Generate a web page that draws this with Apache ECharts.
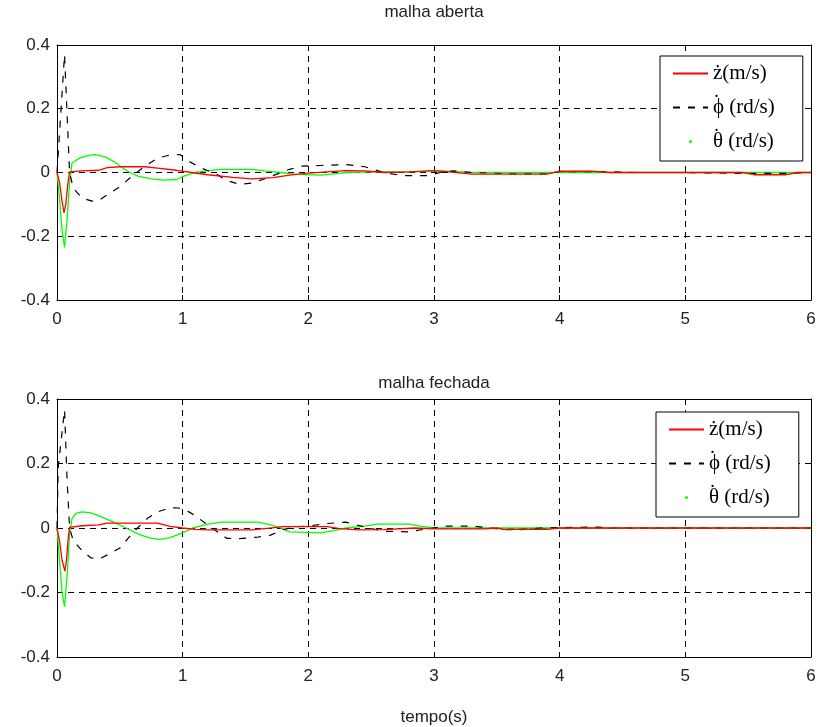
<!DOCTYPE html>
<html>
<head>
<meta charset="utf-8">
<script src="https://cdn.jsdelivr.net/npm/echarts@6/dist/echarts.min.js"></script>
<style>html,body{margin:0;padding:0;background:#fff}#c{width:820px;height:727px}</style>
</head>
<body>
<div id="c"></div>
<script>
// ---- data (time in s, value) ----
const titles = ['malha aberta', 'malha fechada'];
const seriesNames = ['\u017C(m/s)', '\u03D5\u0307 (rd/s)', '\u03B8\u0307 (rd/s)'];
const xTicks = [0, 1, 2, 3, 4, 5, 6];
const yTicks = [-0.4, -0.2, 0, 0.2, 0.4];

// open loop
const zOpen = [[0,0],[0.02,-0.03],[0.04,-0.09],[0.056,-0.127],[0.07,-0.1],[0.085,-0.04],[0.1,0.002],[0.2,0.005],[0.33,0.007],[0.4,0.015],[0.5,0.018],[0.7,0.018],[0.8,0.014],[0.95,0.007],[1.07,0],[1.2,-0.007],[1.4,-0.015],[1.55,-0.02],[1.72,-0.016],[1.85,-0.008],[2.0,-0.002],[2.15,0.002],[2.3,0.006],[2.45,0.005],[2.6,0],[2.8,0.002],[3.0,0.006],[3.1,0.003],[3.3,-0.005],[3.9,-0.005],[4.0,0.004],[4.25,0.004],[4.4,0],[5.45,0],[5.55,-0.007],[5.8,-0.007],[5.9,0],[6,0]];
const phiOpen = [[0,0],[0.06,0.37],[0.1,0.0],[0.13,-0.05],[0.2,-0.08],[0.28,-0.09],[0.33,-0.088],[0.4,-0.07],[0.5,-0.045],[0.6,-0.01],[0.7,0.02],[0.8,0.045],[0.9,0.055],[0.98,0.056],[1.05,0.035],[1.14,0.015],[1.27,-0.005],[1.35,-0.025],[1.45,-0.037],[1.55,-0.033],[1.65,-0.02],[1.75,-0.005],[1.85,0.01],[1.95,0.02],[2.1,0.022],[2.3,0.025],[2.45,0.018],[2.6,0],[2.75,-0.01],[2.95,-0.01],[3.05,0],[3.15,0.005],[3.3,0],[3.6,-0.004],[3.9,-0.004],[4.0,0.003],[4.3,0.003],[4.6,0],[5.0,0],[5.5,-0.003],[5.8,-0.003],[6,0]];
const thetaOpen = [[0,0],[0.02,-0.08],[0.04,-0.18],[0.06,-0.235],[0.08,-0.15],[0.1,-0.03],[0.12,0.03],[0.18,0.045],[0.25,0.054],[0.3,0.056],[0.38,0.05],[0.45,0.035],[0.52,0.015],[0.58,0],[0.65,-0.012],[0.75,-0.02],[0.85,-0.024],[0.95,-0.022],[1.02,-0.01],[1.1,0],[1.2,0.006],[1.3,0.01],[1.55,0.01],[1.65,0.005],[1.78,0],[1.9,-0.006],[2.1,-0.008],[2.2,-0.004],[2.3,0],[2.5,0.002],[2.9,0.003],[3.0,0.006],[3.1,0.004],[3.3,0],[6,0]];

// closed loop
const zClosed = [[0,0],[0.02,-0.04],[0.04,-0.1],[0.063,-0.134],[0.075,-0.1],[0.09,-0.03],[0.1,0.002],[0.2,0.007],[0.33,0.01],[0.4,0.015],[0.8,0.015],[0.9,0.005],[1.0,0],[1.1,-0.004],[1.2,-0.006],[1.55,-0.006],[1.65,-0.002],[1.8,0.004],[2.15,0.004],[2.25,-0.002],[2.4,-0.006],[2.6,-0.005],[2.85,0],[3.0,-0.003],[3.4,-0.003],[3.5,0],[3.55,-0.004],[3.9,-0.004],[4.0,0],[6,0]];
const phiClosed = [[0,0],[0.01,0.19],[0.06,0.366],[0.08,0.15],[0.1,0.0],[0.13,-0.04],[0.2,-0.07],[0.27,-0.093],[0.34,-0.095],[0.42,-0.08],[0.5,-0.062],[0.57,-0.03],[0.64,0.0],[0.72,0.03],[0.8,0.05],[0.9,0.063],[0.97,0.062],[1.05,0.05],[1.1,0.038],[1.19,0.012],[1.27,-0.01],[1.35,-0.032],[1.45,-0.033],[1.6,-0.028],[1.7,-0.022],[1.8,-0.005],[1.9,0.004],[2.0,0.006],[2.15,0.014],[2.3,0.018],[2.45,0.003],[2.6,-0.01],[2.8,-0.012],[2.95,-0.002],[3.1,0.006],[3.3,0.006],[3.45,0],[3.55,-0.005],[3.7,-0.005],[3.85,0],[4.3,0.003],[4.4,0],[6,0]];
const thetaClosed = [[0,0],[0.02,-0.1],[0.04,-0.2],[0.06,-0.244],[0.08,-0.15],[0.1,-0.02],[0.12,0.03],[0.15,0.045],[0.2,0.05],[0.27,0.047],[0.35,0.035],[0.45,0.018],[0.55,0],[0.65,-0.02],[0.75,-0.032],[0.82,-0.035],[0.9,-0.03],[1.0,-0.015],[1.08,0],[1.2,0.012],[1.3,0.018],[1.6,0.018],[1.7,0.01],[1.78,0],[1.85,-0.012],[2.1,-0.015],[2.2,-0.008],[2.3,0],[2.45,0.006],[2.55,0.012],[2.8,0.012],[2.9,0.005],[3.0,0],[6,0]];

const dataSets = [[zOpen, phiOpen, thetaOpen], [zClosed, phiClosed, thetaClosed]];
const colors = ['#ff0000', '#000000', '#00ff00'];

// ---- chart ----
const chart = echarts.init(document.getElementById('c'), null, {renderer: 'canvas'});
const FONT = '"Liberation Sans", Arial, sans-serif';
const SERIF = '"Liberation Serif", serif';
const grids = [
  {left: 57, top: 45, width: 754, height: 255, outerBoundsMode: 'none'},
  {left: 57, top: 399, width: 754, height: 258, outerBoundsMode: 'none'}
];
const axisLine = {show: true, onZero: false, lineStyle: {color: '#000', width: 1}};
const tick = {show: true, inside: true, length: 5, lineStyle: {color: '#000'}};
const split = {show: true, lineStyle: {color: '#000', type: [6, 5], width: 1}};

const xAxes = [], yAxes = [];
grids.forEach((g, i) => {
  xAxes.push({type: 'value', gridIndex: i, position: 'bottom', min: xTicks[0], max: xTicks[xTicks.length-1], interval: 1,
    axisLine, axisTick: tick, splitLine: split,
    axisLabel: {margin: 11, fontFamily: FONT, fontSize: 17, color: '#222'},
    name: i === 1 ? 'tempo(s)' : '', nameLocation: 'middle', nameGap: 52,
    nameTextStyle: {fontFamily: FONT, fontSize: 17, color: '#222'}});
  xAxes.push({type: 'value', gridIndex: i, position: 'top', min: xTicks[0], max: xTicks[xTicks.length-1], interval: 1,
    axisLine, axisTick: tick, splitLine: {show: false}, axisLabel: {show: false}});
  yAxes.push({type: 'value', gridIndex: i, position: 'left', min: yTicks[0], max: yTicks[yTicks.length-1], interval: 0.2,
    axisLine, axisTick: tick, splitLine: split,
    axisLabel: {margin: 7, fontFamily: FONT, fontSize: 17, color: '#222',
      formatter: v => String(Math.round(v * 10) / 10)}});
  yAxes.push({type: 'value', gridIndex: i, position: 'right', min: yTicks[0], max: yTicks[yTicks.length-1], interval: 0.2,
    axisLine, axisTick: tick, splitLine: {show: false}, axisLabel: {show: false}});
});

const series = [];
dataSets.forEach((set, gi) => {
  set.forEach((d, si) => {
    series.push({
      type: 'line', name: seriesNames[si], data: d,
      xAxisIndex: gi * 2, yAxisIndex: gi * 2,
      symbol: 'none', showSymbol: false, animation: false,
      lineStyle: {color: colors[si], width: si === 1 ? 1.2 : 1.3, type: si === 1 ? [7, 8] : 'solid'},
      itemStyle: {color: colors[si]},
      z: si === 1 ? 3 : (si === 0 ? 4 : 2)
    });
  });
});

// legend labels: dotted symbols drawn with a zero-width raised dot token
function legendLabel(name) {
  if (name === seriesNames[0]) return '{d| }{t|' + name + '}';
  const base = name.replace('\u0307', '');
  return '{d|\u02D9}{t|' + base + '}';
}

const legendData = [
  {name: seriesNames[0], itemStyle: {opacity: 0}},
  {name: seriesNames[1], itemStyle: {opacity: 0}},
  {name: seriesNames[2], icon: 'circle', itemStyle: {color: '#00ff00'}}
];
const legendBase = {
  orient: 'vertical', backgroundColor: '#fff', borderColor: '#000', borderWidth: 1,
  padding: [3, 28, 5, 12], itemWidth: 35, itemHeight: 3, itemGap: 5, itemTextGap: 5,
  selectedMode: false, z: 10,
  formatter: legendLabel,
  textStyle: {fontFamily: SERIF, fontSize: 21, color: '#000', lineHeight: 20,
    rich: {
      t: {fontFamily: SERIF, fontSize: 21, color: '#000', lineHeight: 20},
      d: {fontFamily: SERIF, fontSize: 21, color: '#000', lineHeight: 20, width: 0, padding: [0, 0, 8, 0]}
    }},
  data: legendData
};

chart.setOption({
  backgroundColor: '#fff',
  animation: false,
  title: [
    {text: titles[0], left: 434, top: 4, textAlign: 'center', padding: 0,
      textStyle: {fontFamily: FONT, fontSize: 17, fontWeight: 'normal', color: '#222'}},
    {text: titles[1], left: 434, top: 375, textAlign: 'center', padding: 0,
      textStyle: {fontFamily: FONT, fontSize: 17, fontWeight: 'normal', color: '#222'}}
  ],
  legend: [
    Object.assign({}, legendBase, {left: 660, top: 56}),
    Object.assign({}, legendBase, {left: 656, top: 412})
  ],
  grid: grids,
  xAxis: xAxes,
  yAxis: yAxes,
  series
});
</script>
</body>
</html>
